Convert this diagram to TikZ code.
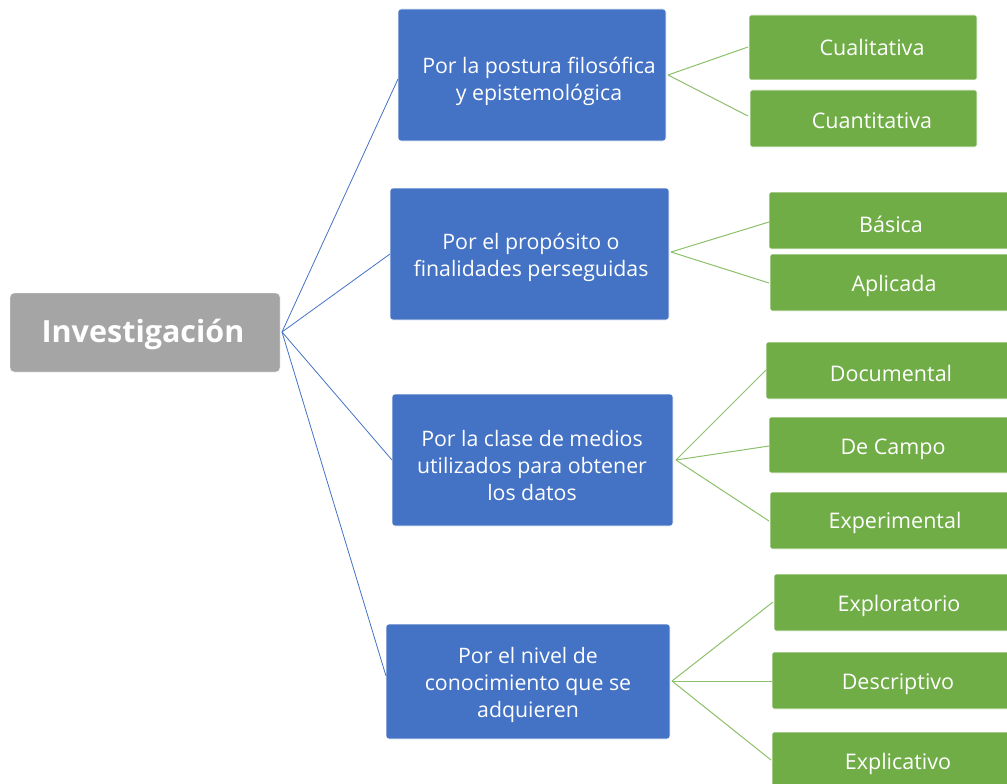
\documentclass[tikz,border=0pt]{standalone}
\usepackage{fontspec}
\setmainfont{Open Sans}
\definecolor{bluebox}{HTML}{4472C4}
\definecolor{greenbox}{HTML}{70AD47}
\definecolor{graybox}{HTML}{A5A5A5}
\definecolor{greenline}{HTML}{8CC06A}
\begin{document}
\begin{tikzpicture}[x=1pt,y=-1pt,
  rootbox/.style={fill=graybox,draw=white,rounded corners=4pt},
  catbox/.style={fill=bluebox,draw=white,line width=0.6pt,rounded corners=3pt},
  leafbox/.style={fill=greenbox,draw=white,line width=0.8pt,rounded corners=1.5pt},
  roottext/.style={text=white,font=\fontsize{30.5}{36}\selectfont\bfseries},
  cattext/.style={text=white,align=center,font=\fontsize{21.3}{27}\selectfont},
  leaftext/.style={text=white,font=\fontsize{21.5}{26}\selectfont},
  blueline/.style={draw=bluebox,line width=0.8pt},
  greenconn/.style={draw=greenline,line width=1pt}]
\useasboundingbox (0,0) rectangle (1007,784);
% root
\path[rootbox] (10,293) rectangle (280,372);
\node[roottext] (root) at (143,334) {Investigación};
\coordinate (rootE) at (282,332);
% category boxes
\path[catbox] (398,9) rectangle (666,141);
\node[cattext] (c1) at (539,81) {Por la postura filosófica\\y epistemológica};
\path[catbox] (390,188) rectangle (669,320);
\node[cattext] (c2) at (531,257) {Por el propósito o\\finalidades perseguidas};
\path[catbox] (392,394) rectangle (673,526);
\node[cattext] (c3) at (532,466) {Por la clase de medios\\utilizados para obtener\\los datos};
\path[catbox] (386,624) rectangle (670,739);
\node[cattext] (c4) at (528,685) {Por el nivel de\\conocimiento que se\\adquieren};
\coordinate (c1W) at (398,79);
\coordinate (c2W) at (390,254);
\coordinate (c3W) at (392,460);
\coordinate (c4W) at (386,676);
\coordinate (c1E) at (668,75);
\coordinate (c2E) at (671,252);
\coordinate (c3E) at (676,460);
\coordinate (c4E) at (672,681);
% leaves
\path[leafbox] (749,15) rectangle (977,80);
\node[leaftext] (l1) at (872,47) {Cualitativa};
\path[leafbox] (750,90) rectangle (977,147);
\node[leaftext] (l2) at (872,121) {Cuantitativa};
\path[leafbox] (769,192) rectangle (1010,249);
\node[leaftext] (l3) at (891,224) {Básica};
\path[leafbox] (770,254) rectangle (1010,311);
\node[leaftext] (l4) at (894,286) {Aplicada};
\path[leafbox] (766,342) rectangle (1010,399);
\node[leaftext] (l5) at (891,373) {Documental};
\path[leafbox] (769,417) rectangle (1010,473);
\node[leaftext] (l6) at (893,449) {De Campo};
\path[leafbox] (770,492) rectangle (1010,549);
\node[leaftext] (l7) at (895,523) {Experimental};
\path[leafbox] (774,574) rectangle (1010,631);
\node[leaftext] (l8) at (899,606) {Exploratorio};
\path[leafbox] (772,652) rectangle (1010,709);
\node[leaftext] (l9) at (898,684) {Descriptivo};
\path[leafbox] (772,732) rectangle (1010,790);
\node[leaftext] (l10) at (898,764) {Explicativo};
\coordinate (l1W) at (748,47);
\coordinate (l2W) at (748,116);
\coordinate (l3W) at (769,222);
\coordinate (l4W) at (769,283);
\coordinate (l5W) at (766,370);
\coordinate (l6W) at (769,446);
\coordinate (l7W) at (769,521);
\coordinate (l8W) at (773,602);
\coordinate (l9W) at (772,681);
\coordinate (l10W) at (771,760);
% connectors
\draw[blueline] (rootE) -- (c1W);
\draw[blueline] (rootE) -- (c2W);
\draw[blueline] (rootE) -- (c3W);
\draw[blueline] (rootE) -- (c4W);
\draw[greenconn] (c1E) -- (l1W);
\draw[greenconn] (c1E) -- (l2W);
\draw[greenconn] (c2E) -- (l3W);
\draw[greenconn] (c2E) -- (l4W);
\draw[greenconn] (c3E) -- (l5W);
\draw[greenconn] (c3E) -- (l6W);
\draw[greenconn] (c3E) -- (l7W);
\draw[greenconn] (c4E) -- (l8W);
\draw[greenconn] (c4E) -- (l9W);
\draw[greenconn] (c4E) -- (l10W);
\end{tikzpicture}
\end{document}
